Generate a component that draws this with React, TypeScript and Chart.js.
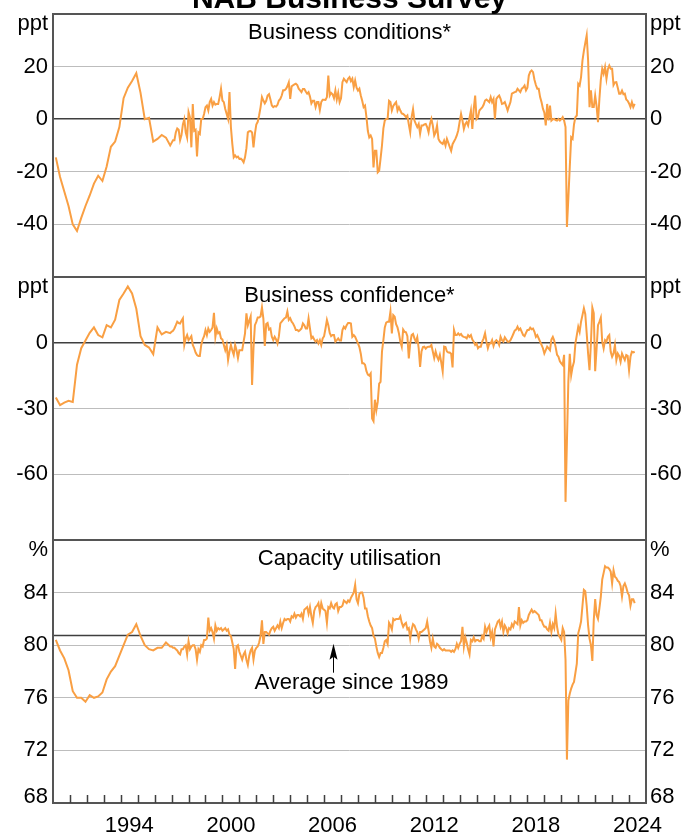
import { useEffect, useRef } from "react";
import { Chart, registerables } from "chart.js";

Chart.register(...registerables);

const FONT = 'Arial, "Liberation Sans", Helvetica, sans-serif';
const TEXT_SIZE = 22;
const LINE_COLOR = "#f99f43";
const GRID_COLOR = "#bdbdbd";
const DARK = "#3f3f3f";
const BORDER = "#555555";

const CHART_TITLE = "NAB Business Survey";
const X_MIN = 1990;
const X_MAX = 2025;
// quarterly observations Mar-1990 .. Dec-1996, monthly Jan-1997 .. May-2024
const QUARTERLY_START = 1990 + 2 / 12;
const MONTHLY_START = 1997;
const X_LABEL_YEARS = [1994, 2000, 2006, 2012, 2018, 2024];
const X_TICK_YEARS = [
  1991, 1992, 1993, 1994, 1995, 1996, 1997, 1998, 1999, 2000, 2001, 2002,
  2003, 2004, 2005, 2006, 2007, 2008, 2009, 2010, 2011, 2012, 2013, 2014,
  2015, 2016, 2017, 2018, 2019, 2020, 2021, 2022, 2023, 2024,
];
const AVERAGE_CAPACITY = 80.8;
const AVERAGE_LABEL = "Average since 1989";
const AVERAGE_ARROW_YEAR = 2006.5;

// ---------- Business conditions ----------
const conditionsTicks = [-60, -40, -20, 0, 20, 40];
const conditionsTickLabels = [-40, -20, 0, 20];
const conditionsQuarterly = [
  -14.5, -22, -27.5, -33, -40, -42.5, -37.5, -33, -29, -24.5, -21.5, -23.5,
  -18, -10.5, -8.5, -3, 8, 12, 14.5, 17.5, 10, 0, 0.5, -8.5, -7.5, -6, -7, -10,
];
const conditionsMonthly = [
  -9, -8, -8, -5, -3.5, -4, -8, -6, -2, 0, -5, -7, // 1997
  2.7, 0.8, -10.7, 5.8, -4.4, -4, -14.2, -5, -5.6, 0.1, 0.1, 2, // 1998
  4.6, 5.2, 3.3, 6.5, 7.7, 5.2, 6.5, 5.5, 5.8, 5.8, 8.4, 11.6, // 1999
  7.1, 6.5, 3.9, 2, 0.1, 10.3, -3, -9.4, -14.5, -13.8, -14.5, -14.2, // 2000
  -15.1, -15, -15.5, -16.4, -14.5, -11, -5, -4.6, -4.5, -5, -10.7, -5.6, // 2001
  -2, -1, 1.5, 4.5, 8.4, 7.1, 6, 7, 9, 9.5, 7.5, 5.2, // 2002
  4.6, 5, 4.8, 5.5, 7.1, 7.7, 9, 11, 11, 11.5, 12.5, 14, // 2003
  7.7, 12.5, 12.9, 13.2, 13.5, 13, 11.6, 11, 10.3, 11.5, 11.5, 10.5, // 2004
  9.7, 10.3, 8.6, 6, 7, 7, 4.6, 6.5, 6.5, 3.5, 6.5, 7.4, // 2005
  7.4, 7.3, 8.4, 16.6, 9, 10, 9.5, 8, 10.9, 7.5, 10, 6.5, // 2006
  8, 14.1, 15.4, 14.7, 14.1, 15.4, 16, 14.5, 15.4, 12.2, 14.7, 12, // 2007
  10.9, 11.6, 9, 7, 4.6, 5.2, 0.8, -4.5, -6.9, -6.2, -7.5, -18.3, // 2008
  -12, -12, -20.2, -19.6, -15, -10, -3.5, -0.5, 0.1, 0.1, 7, 6.5, // 2009
  3.3, 5, 5.8, 6.5, 3.3, 4.6, 3.3, 2.2, 2, 1.5, 0.8, 1.4, // 2010
  -2, -5, 0.8, 3.8, -0.5, -1.8, -3, -1.8, -5.5, -2.4, -2.4, -2, // 2011
  -1.8, -3, -5, -1.8, 0.1, -2.4, -6.2, -5, -2.4, -7.5, -8.5, -9, // 2012
  -9.4, -8.1, -10, -7.5, -9, -10.5, -12, -9.5, -8.5, -7.5, -6.2, -4.3, // 2013
  -1, 2, -0.5, -3.7, -1.8, -1.1, -2.4, 0.5, 3.3, -3.7, 3.9, 9, // 2014
  0.1, 0.8, 3.3, 3.9, 4.5, 5.5, 7.1, 7.5, 7, 6.5, 8.4, 6.5, // 2015
  7.7, 0.1, 7.7, 8.5, 9, 7.7, 5.8, 6, 6.5, 5, 3.3, 5, // 2016
  6.5, 9.7, 10, 10.3, 10.5, 11.6, 11, 10.3, 11.6, 12, 12.8, 11, // 2017
  12, 16.6, 18, 18.5, 17.9, 15, 13, 11.6, 11.6, 8.4, 6.5, 4, // 2018
  2.5, -2.4, 5.8, -0.5, 5.2, -0.5, 0, 0.1, -0.3, -0.5, 0.1, -0.5, // 2019
  0, 0.8, -0.5, -3, -41, -30, -18.3, -6.9, -7.5, -2, 0.8, 1.4, // 2020
  13.5, 12.8, 16, 22.3, 26, 29, 31.9, 22.3, 4.6, 11, 4.6, 4.6, // 2021
  9, 5, -1.1, 7.7, 15, 19.2, 17.3, 19.8, 15.4, 19, 20.4, 19.2, // 2022
  19.2, 13, 14, 14.1, 12, 9.7, 9.7, 10.9, 9.5, 9.7, 7.5, 7, // 2023
  6, 4.6, 6.5, 4.6, 5.8, // 2024
];

// ---------- Business confidence ----------
const confidenceTicks = [-90, -60, -30, 0, 30];
const confidenceTickLabels = [-60, -30, 0];
const confidenceQuarterly = [
  -25, -28.5, -27.3, -26.5, -27, -10, -2.5, 1, 4.5, 7, 3.5, 2.5, 8, 7, 10.5,
  19.5, 22.5, 25.7, 22.5, 15.5, 3, -1, -2.2, -5.2, 7, 3.8, 5, 4.4,
];
const confidenceMonthly = [
  5, 5.5, 6.5, 8, 9.6, 9, 8.8, 10, 11.1, -1, 2, 3.5, // 1997
  1.2, 2, 3, -1, -2.5, -4.5, -5.6, -6, -6, -1, 1.5, 3, // 1998
  5.8, 3.5, 6.5, 5, 5.8, 7, 13.7, 2.7, 6.5, 4.3, 4.8, 2, // 1999
  1.5, -1, -3.4, -1, -7.9, -4, -1, -3.5, -5.5, -1, -3.4, -7, // 2000
  -3.4, -3.4, -3.4, 0.5, 4.3, 13.4, 8, 10, 12, -19.3, -2.5, 8, // 2001
  9.5, 11.5, 11.5, 12, 16.1, 11, -1.5, 8.5, 9, 6, 6.5, 2.7, // 2002
  1.2, 2.7, 1.5, -0.3, 3, 8.8, 9.6, 10.4, 11.2, 11.5, 14.2, 10.4, // 2003
  11.2, 9.6, 8.8, 7.5, 5.8, 5.8, 5.3, 5.8, 6.5, 8.8, 8, 6.5, // 2004
  6.5, 11.1, 6.5, 2, 2.7, 1.5, 0.5, 1.2, -0.3, 1.2, -1, 2, // 2005
  3, 6.5, 10.4, 8, 4.5, 3, 3.5, 3.5, 0.5, 1.2, 2, 1, // 2006
  1, 5.8, 7.3, 6.5, 8, 9, 9, 8.8, 2.7, 3.5, 2.7, 1.2, // 2007
  -0.3, -2, -5, -9.4, -9.4, -10, -13, -14.5, -15, -14, -34.6, -35.8, // 2008
  -26, -30.8, -27, -18.6, -17.8, -4.1, 1.2, 7, 9.2, 9.6, 9.6, 14.2, // 2009
  4.3, 12.6, 11.9, 8.5, 7, 4.3, 0.5, -1.8, 6, 5, 4.8, 3, // 2010
  -7.2, -0.3, 3.5, 4, 2, 0.5, 2.5, -2.5, -11, -4, -2, -1.8, // 2011
  -2.7, -2, -1.8, -1.8, -1, -4, -7, -4, -6.3, -7.8, -5.5, -9, // 2012
  -13, -1.8, -2, -4, -4.5, -4.5, -5, -11.3, 5.8, 3.5, 3.5, 4.3, // 2013
  3.5, 4, 3, 2.7, 2.5, 2, 3.5, 2.7, 3.5, 1.5, 0.5, -1, // 2014
  -0.3, -2.5, -1.8, -1.8, 0.5, 2, 4.3, 0.5, -2.5, -0.3, -0.3, 1.2, // 2015
  -1.5, 0.5, 1.2, 0.5, -1, 2.7, 1.2, 0.5, 2.5, 1.5, 0.5, 0.5, // 2016
  1.2, 2.5, 4, 5.5, 6, 7.3, 5.8, 6.5, 5, 3.5, 3, 4.5, // 2017
  5.8, 5.8, 6.9, 6.2, 6.5, 5, 2.7, 3.5, 2, 0.5, -1, -2.5, // 2018
  -4.9, -3.4, -1.8, -2.6, -3.4, 1.5, 2.7, 1, -2, -5.5, -6.4, -8.5, // 2019
  -9.4, -10.2, -5.5, -72.6, -45, -17.8, -5, -14.8, -11, -8.7, -0.3, 3.5, // 2020
  7.3, 5, 9.6, 12.6, 15.7, 13, 4.3, -5, -12.5, 0, 16, 13.5, // 2021
  -13, -2.7, 8, 9.5, 11.4, 0.5, -2.6, 1.2, 0.5, 2.7, 3.5, -4.1, // 2022
  -6.4, -4.9, -1, -7.9, -4.9, -6, -8.7, -4.9, -6.4, -7.9, -5.6, -6, // 2023
  -12.5, -6.4, -4.1, -4.4, -4.1, // 2024
];

// ---------- Capacity utilisation ----------
const capacityTicks = [68, 72, 76, 80, 84, 88];
const capacityTickLabels = [72, 76, 80, 84];
const capacityBottomLabel = 68;
const capacityQuarterly = [
  80.4, 79.6, 79, 78.1, 76.5, 76, 76, 75.7, 76.2, 76, 76.1, 76.4, 77.4, 78,
  78.4, 79.2, 80, 80.8, 81, 81.6, 80.7, 80, 79.7, 79.6, 79.8, 79.8, 80.2, 79.9,
];
const capacityMonthly = [
  79.9, 79.8, 79.8, 79.7, 79.6, 79.4, 79.3, 79.7, 79.7, 79.9, 80, 79.3, // 1997
  80.3, 79.7, 79.9, 80, 80, 79.7, 78.9, 79.7, 79.5, 80, 79.9, 80.4, // 1998
  80.4, 80.5, 82.1, 81.1, 81.3, 81, 80.5, 81.5, 81.1, 81.3, 81.2, 81.3, // 1999
  81.1, 81.2, 81.3, 81.1, 81.2, 80.8, 80.7, 80.2, 79.7, 78.2, 79.9, 80, // 2000
  79.5, 79.2, 78.9, 79.3, 79.5, 78.9, 78.5, 79.2, 79.6, 79.8, 78.9, 79.6, // 2001
  79.8, 79.9, 80.2, 80.7, 81.9, 80.1, 81, 81, 80.9, 80.8, 81.1, 81.3, // 2002
  81.4, 81.1, 81.3, 81.5, 81.3, 81.8, 81.3, 81.7, 82, 81.9, 82, 82, // 2003
  81.8, 82.2, 82.1, 82.4, 82.1, 82.3, 82.3, 82.2, 82.4, 82, 82.7, 82.8, // 2004
  82.9, 82.4, 82.9, 82.2, 81.7, 82.6, 82.9, 83, 83.2, 82.5, 83.2, 82.8, // 2005
  82.7, 82.6, 81.7, 82.9, 82.8, 83.2, 82.9, 82.8, 83.1, 83.2, 82.6, 82.9, // 2006
  82.9, 83, 83.4, 83.3, 83.2, 83.4, 83.3, 83.6, 83.8, 84, 84.6, 83.5, // 2007
  83.2, 83.9, 84, 84, 83.6, 82.8, 82.8, 82.2, 81.8, 81.5, 81.3, 80.7, // 2008
  80.5, 79.9, 79.4, 79.1, 79.4, 79.4, 79.8, 80.3, 80.4, 80.1, 81.7, 81.5, // 2009
  81.2, 82, 81.9, 82, 82, 82, 82.2, 81.7, 81.4, 81.6, 81.7, 81.2, // 2010
  81.3, 80.5, 81.2, 81.6, 81.5, 81.2, 81, 80.5, 81, 81, 81.1, 81.2, // 2011
  81.3, 81.8, 81.1, 80.3, 79.8, 80.5, 79.9, 79.8, 80.1, 80, 79.8, 79.7, // 2012
  79.6, 79.7, 79.6, 79.6, 79.6, 79.6, 79.5, 79.6, 79.5, 79.7, 80.1, 79.8, // 2013
  80.1, 80.3, 81.4, 79.9, 80.6, 80.2, 79.7, 79.3, 80.4, 80.3, 80.6, 80.3, // 2014
  80.4, 80.4, 80.3, 80.3, 80.7, 80.5, 81.4, 81, 81.3, 81.5, 80.6, 81, // 2015
  79.9, 81.2, 81.5, 81.8, 81.9, 81.4, 81.8, 81, 81.5, 81.3, 80.9, 81.3, // 2016
  81.2, 81.6, 81.4, 81.8, 81.7, 81.6, 82.9, 81.5, 81.9, 81.7, 81.8, 81.8, // 2017
  81.9, 82.3, 82.5, 82.7, 82.5, 82.6, 82.5, 82.4, 82.3, 81.9, 81.9, 81.6, // 2018
  81.4, 81.4, 81.2, 81.1, 81.7, 81, 81.6, 81.3, 82.4, 81.4, 80.8, 80.6, // 2019
  80.4, 81.3, 81, 78.9, 71.3, 75.8, 76.3, 76.7, 77, 77.2, 77.9, 78.6, // 2020
  80.9, 81.3, 81.8, 83, 84.2, 84.1, 83, 81.5, 80.5, 80, 78.8, 81.9, // 2021
  83.5, 82.3, 82, 82.8, 83.7, 85, 85.5, 86, 85.9, 85.9, 85.8, 85.6, // 2022
  84.7, 85.7, 85.2, 85.1, 84.9, 84.8, 84.5, 83.7, 84.5, 84.7, 84.4, 84, // 2023
  83.8, 83, 83.5, 83.5, 83.2, // 2024
];

type Pt = { x: number; y: number };

function toPoints(quarterly: number[], monthly: number[]): Pt[] {
  const pts: Pt[] = quarterly.map((v, i) => ({ x: QUARTERLY_START + i * 0.25, y: v }));
  monthly.forEach((v, i) => pts.push({ x: MONTHLY_START + i / 12, y: v }));
  return pts;
}

type PanelDef = {
  key: string;
  title: string;
  unit: string;
  min: number;
  max: number;
  ticks: number[];
  tickLabels: number[];
  bottomLabel?: number;
  average?: number;
  points: Pt[];
  mainTitle?: boolean;
  xAxis?: boolean;
  canvasTop: number;
  canvasHeight: number;
  padTop: number;
  padBottom: number;
};

const PANELS: PanelDef[] = [
  {
    key: "conditions",
    title: "Business conditions*",
    unit: "ppt",
    min: -60,
    max: 40,
    ticks: conditionsTicks,
    tickLabels: conditionsTickLabels,
    points: toPoints(conditionsQuarterly, conditionsMonthly),
    mainTitle: true,
    canvasTop: 0,
    canvasHeight: 280,
    padTop: 14,
    padBottom: 3,
  },
  {
    key: "confidence",
    title: "Business confidence*",
    unit: "ppt",
    min: -90,
    max: 30,
    ticks: confidenceTicks,
    tickLabels: confidenceTickLabels,
    points: toPoints(confidenceQuarterly, confidenceMonthly),
    canvasTop: 263,
    canvasHeight: 280,
    padTop: 14,
    padBottom: 3,
  },
  {
    key: "capacity",
    title: "Capacity utilisation",
    unit: "%",
    min: 68,
    max: 88,
    ticks: capacityTicks,
    tickLabels: capacityTickLabels,
    bottomLabel: capacityBottomLabel,
    average: AVERAGE_CAPACITY,
    points: toPoints(capacityQuarterly, capacityMonthly),
    xAxis: true,
    canvasTop: 526,
    canvasHeight: 308,
    padTop: 14,
    padBottom: 31,
  },
];

function makeDecorPlugin(p: PanelDef) {
  return {
    id: "panelDecor_" + p.key,
    beforeDatasetsDraw(chart: any) {
      if (p.average == null) return;
      const { ctx, chartArea: a, scales } = chart;
      const y = Math.round(scales.y.getPixelForValue(p.average)) + 0.5;
      ctx.save();
      ctx.strokeStyle = DARK;
      ctx.lineWidth = 1.5;
      ctx.beginPath();
      ctx.moveTo(a.left, y);
      ctx.lineTo(a.right, y);
      ctx.stroke();
      ctx.restore();
    },
    afterDraw(chart: any) {
      const { ctx, chartArea: a, scales } = chart;
      const cx = (a.left + a.right) / 2;
      ctx.save();
      ctx.strokeStyle = BORDER;
      ctx.lineWidth = 2;
      ctx.strokeRect(a.left, a.top, a.right - a.left, a.bottom - a.top);

      ctx.fillStyle = "#000";
      ctx.font = `${TEXT_SIZE}px ${FONT}`;
      ctx.textBaseline = "alphabetic";
      ctx.textAlign = "center";
      ctx.fillText(p.title, cx, a.top + 25);

      ctx.textAlign = "right";
      ctx.fillText(p.unit, a.left - 5, a.top + 16);
      ctx.textAlign = "left";
      ctx.fillText(p.unit, a.right + 4, a.top + 16);

      if (p.bottomLabel != null) {
        ctx.textAlign = "right";
        ctx.fillText(String(p.bottomLabel), a.left - 5, a.bottom - 0.5);
        ctx.textAlign = "left";
        ctx.fillText(String(p.bottomLabel), a.right + 4, a.bottom - 0.5);
      }

      if (p.average != null) {
        const ax = Math.round(scales.x.getPixelForValue(AVERAGE_ARROW_YEAR)) + 0.5;
        const ay = scales.y.getPixelForValue(p.average);
        const tip = ay + 9;
        const base = ay + 24;
        const shaftEnd = ay + 38;
        ctx.fillStyle = "#000";
        ctx.beginPath();
        ctx.moveTo(ax, tip);
        ctx.lineTo(ax - 4, base + 1);
        ctx.lineTo(ax, base - 2);
        ctx.lineTo(ax + 4, base + 1);
        ctx.closePath();
        ctx.fill();
        ctx.strokeStyle = "#000";
        ctx.lineWidth = 1;
        ctx.beginPath();
        ctx.moveTo(ax, base - 2);
        ctx.lineTo(ax, shaftEnd);
        ctx.stroke();
        ctx.textAlign = "center";
        ctx.fillText(AVERAGE_LABEL, cx + 2, ay + 54);
      }

      if (p.xAxis) {
        ctx.strokeStyle = DARK;
        ctx.lineWidth = 1.5;
        ctx.beginPath();
        for (const yr of X_TICK_YEARS) {
          const x = Math.round(scales.x.getPixelForValue(yr)) + 0.5;
          ctx.moveTo(x, a.bottom);
          ctx.lineTo(x, a.bottom - 8);
        }
        ctx.stroke();
        ctx.fillStyle = "#000";
        ctx.textAlign = "center";
        for (const yr of X_LABEL_YEARS) {
          ctx.fillText(String(yr), scales.x.getPixelForValue(yr + 0.5), a.bottom + 29);
        }
      }

      if (p.mainTitle) {
        ctx.fillStyle = "#000";
        ctx.font = `bold 30px ${FONT}`;
        ctx.textAlign = "center";
        ctx.fillText(CHART_TITLE, cx, 8);
      }
      ctx.restore();
    },
  };
}

function buildConfig(p: PanelDef): any {
  const tickFont = { family: FONT, size: TEXT_SIZE };
  const setTicks = (scale: any) => {
    scale.ticks = p.ticks.map((v) => ({ value: v }));
  };
  const labelCb = (value: any) => (p.tickLabels.includes(Number(value)) ? String(value) : null);
  const fitWidth = (w: number) => (s: any) => {
    s.width = w;
    s.paddingTop = 0;
    s.paddingBottom = 0;
  };
  return {
    type: "line",
    data: {
      datasets: [
        {
          data: p.points,
          borderColor: LINE_COLOR,
          borderWidth: 2,
          pointRadius: 0,
          pointHoverRadius: 0,
          fill: false,
          tension: 0,
          xAxisID: "x",
          yAxisID: "y",
        },
      ],
    },
    options: {
      animation: false,
      responsive: false,
      maintainAspectRatio: false,
      devicePixelRatio: 1,
      events: [],
      layout: { autoPadding: false, padding: { top: p.padTop, bottom: p.padBottom, left: 0, right: 0 } },
      plugins: { legend: { display: false }, tooltip: { enabled: false }, title: { display: false } },
      scales: {
        x: { type: "linear", min: X_MIN, max: X_MAX, display: false },
        y: {
          type: "linear",
          position: "left",
          min: p.min,
          max: p.max,
          afterBuildTicks: setTicks,
          afterFit: fitWidth(53),
          ticks: { callback: labelCb, font: tickFont, color: "#000", padding: 5, autoSkip: false },
          grid: {
            drawTicks: false,
            color: (c: any) => (c.tick && c.tick.value === 0 ? DARK : GRID_COLOR),
            lineWidth: (c: any) => (c.tick && c.tick.value === 0 ? 1.5 : 1),
          },
          border: { display: false },
        },
        y2: {
          type: "linear",
          position: "right",
          min: p.min,
          max: p.max,
          afterBuildTicks: setTicks,
          afterFit: fitWidth(38),
          ticks: { callback: labelCb, font: tickFont, color: "#000", padding: 4, autoSkip: false },
          grid: { display: false, drawTicks: false },
          border: { display: false },
        },
      },
    },
    plugins: [makeDecorPlugin(p)],
  };
}

function PanelChart({ def }: { def: PanelDef }) {
  const ref = useRef<HTMLCanvasElement | null>(null);
  useEffect(() => {
    if (!ref.current) return;
    const chart = new Chart(ref.current, buildConfig(def));
    return () => chart.destroy();
  }, [def]);
  return (
    <canvas
      ref={ref}
      width={684}
      height={def.canvasHeight}
      style={{ position: "absolute", left: 0, top: def.canvasTop, width: 684, height: def.canvasHeight }}
    />
  );
}

export default function App() {
  return (
    <div style={{ position: "absolute", left: 0, top: 0, width: 684, height: 834, background: "#fff", overflow: "hidden" }}>
      {PANELS.map((p) => (
        <PanelChart key={p.key} def={p} />
      ))}
    </div>
  );
}
